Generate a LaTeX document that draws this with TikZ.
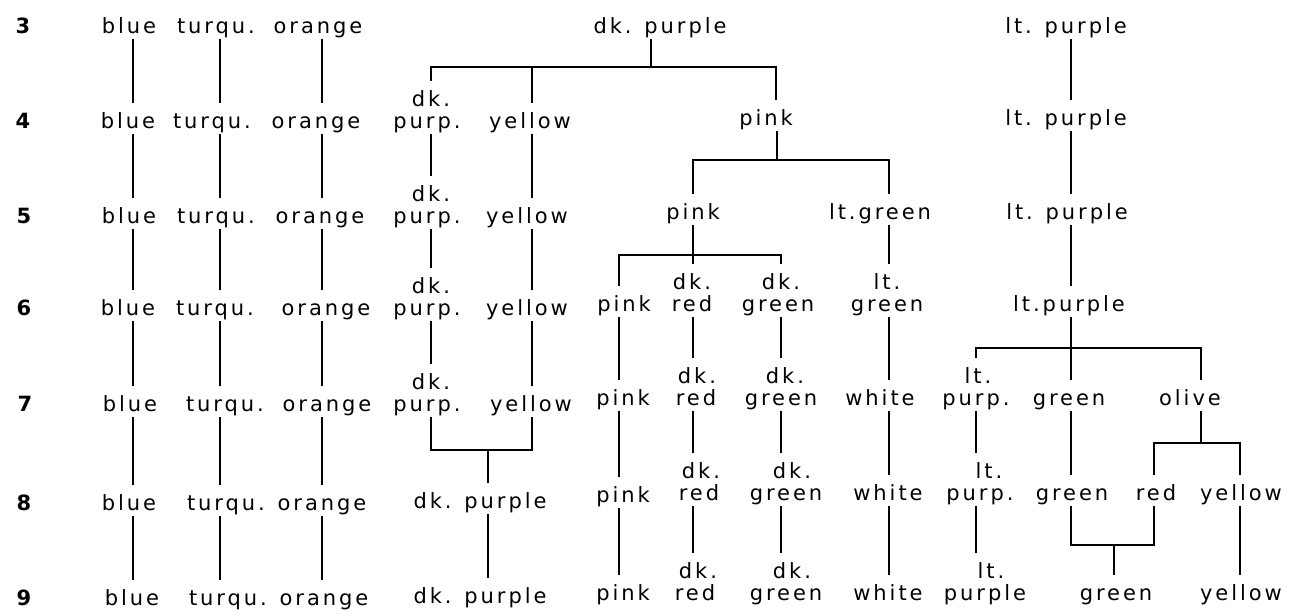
\documentclass[tikz,border=0pt]{standalone}
\usepackage{fontspec}
\setmainfont{DejaVu Sans}[LetterSpace=14]
\begin{document}
\begin{tikzpicture}[x=1pt,y=-1pt,
  lab/.style={font=\fontsize{21}{21}\selectfont, anchor=base, inner xsep=1pt, inner ysep=3pt, text height=17pt, text depth=3pt},
  rowlab/.style={lab, font=\fontsize{21}{21}\selectfont\bfseries},
  ln/.style={line width=1.1pt},
  con/.style={ln, shorten >=5pt},
  fork/.style={ln, shorten <=5pt, shorten >=5pt}]
\useasboundingbox (0,0) rectangle (1291,616);
% column line positions
\coordinate (cB) at (133,0);
\coordinate (cT) at (220,0);
\coordinate (cO) at (322,0);
\coordinate (cDP) at (431,0);
\coordinate (cY) at (532,0);
\coordinate (cMD) at (488,0);
\coordinate (cPK) at (619,0);
\coordinate (cDR) at (693,0);
\coordinate (cDG) at (781,0);
\coordinate (cLG) at (889,0);
\coordinate (cLP) at (976,0);
\coordinate (cG) at (1071,0);
\coordinate (cR) at (1154,0);
\coordinate (cOL) at (1201,0);
\coordinate (cYE) at (1240,0);
% row labels
\node[rowlab] (n3) at (23,33) {3};
\node[rowlab] (n4) at (23,128) {4};
\node[rowlab] (n5) at (24,223) {5};
\node[rowlab] (n6) at (24,315) {6};
\node[rowlab] (n7) at (25,411) {7};
\node[rowlab] (n8) at (24,510) {8};
\node[rowlab] (n9) at (24,605) {9};
% row 3
\node[lab] (b3) at (129,33) {blue};
\node[lab] (t3) at (216,33) {turqu.};
\node[lab] (o3) at (318,33) {orange};
\node[lab] (dp3) at (660,33) {dk. purple};
\node[lab] (lp3) at (1066,33) {lt. purple};
% row 4
\node[lab] (b4) at (128,128) {blue};
\node[lab] (t4) at (212,128) {turqu.};
\node[lab] (o4) at (316,128) {orange};
\node[lab] (dp4t) at (431,106) {dk.};
\node[lab] (dp4) at (427,128) {purp.};
\node[lab] (ye4) at (530,128) {yellow};
\node[lab] (pk4) at (766,125) {pink};
\node[lab] (lp4) at (1066,125) {lt. purple};
% row 5
\node[lab] (b5) at (129,223) {blue};
\node[lab] (t5) at (216,223) {turqu.};
\node[lab] (o5) at (320,223) {orange};
\node[lab] (dp5t) at (431,201) {dk.};
\node[lab] (dp5) at (427,223) {purp.};
\node[lab] (ye5) at (527,223) {yellow};
\node[lab] (pk5) at (693,219) {pink};
\node[lab] (lg5) at (880,219) {lt.green};
\node[lab] (lp5) at (1067,219) {lt. purple};
% row 6
\node[lab] (b6) at (128,315) {blue};
\node[lab] (t6) at (215,315) {turqu.};
\node[lab] (o6) at (326,315) {orange};
\node[lab] (dp6t) at (431,293) {dk.};
\node[lab] (dp6) at (427,315) {purp.};
\node[lab] (ye6) at (527,315) {yellow};
\node[lab] (pk6) at (624,311) {pink};
\node[lab] (dr6t) at (692,289) {dk.};
\node[lab] (dr6) at (692,311) {red};
\node[lab] (dg6t) at (781,289) {dk.};
\node[lab] (dg6) at (778,311) {green};
\node[lab] (lg6t) at (887,289) {lt.};
\node[lab] (lg6) at (887,311) {green};
\node[lab] (lp6) at (1069,311) {lt.purple};
% row 7
\node[lab] (b7) at (130,411) {blue};
\node[lab] (t7) at (225,411) {turqu.};
\node[lab] (o7) at (327,411) {orange};
\node[lab] (dp7t) at (431,389) {dk.};
\node[lab] (dp7) at (427,411) {purp.};
\node[lab] (ye7) at (531,411) {yellow};
\node[lab] (pk7) at (623,405) {pink};
\node[lab] (dr7t) at (697,383) {dk.};
\node[lab] (dr7) at (696,405) {red};
\node[lab] (dg7t) at (785,383) {dk.};
\node[lab] (dg7) at (781,405) {green};
\node[lab] (wh7) at (880,405) {white};
\node[lab] (lpu7t) at (978,383) {lt.};
\node[lab] (lpu7) at (976,405) {purp.};
\node[lab] (gr7) at (1069,405) {green};
\node[lab] (ol7) at (1190,405) {olive};
% row 8
\node[lab] (b8) at (129,510) {blue};
\node[lab] (t8) at (226,510) {turqu.};
\node[lab] (o8) at (322,510) {orange};
\node[lab] (dpl8) at (480,508) {dk. purple};
\node[lab] (pk8) at (623,502) {pink};
\node[lab] (dr8t) at (701,478) {dk.};
\node[lab] (dr8) at (699,500) {red};
\node[lab] (dg8t) at (792,478) {dk.};
\node[lab] (dg8) at (786,500) {green};
\node[lab] (wh8) at (888,500) {white};
\node[lab] (lpu8t) at (989,478) {lt.};
\node[lab] (lpu8) at (980,500) {purp.};
\node[lab] (gr8) at (1072,500) {green};
\node[lab] (re8) at (1156,500) {red};
\node[lab] (ye8) at (1241,500) {yellow};
% row 9
\node[lab] (b9) at (132,605) {blue};
\node[lab] (t9) at (228,605) {turqu.};
\node[lab] (o9) at (324,605) {orange};
\node[lab] (dpl9) at (480,603) {dk. purple};
\node[lab] (pk9) at (623,600) {pink};
\node[lab] (dr9t) at (698,578) {dk.};
\node[lab] (dr9) at (695,600) {red};
\node[lab] (dg9t) at (792,578) {dk.};
\node[lab] (dg9) at (786,600) {green};
\node[lab] (wh9) at (888,600) {white};
\node[lab] (lpu9t) at (991,578) {lt.};
\node[lab] (lpu9) at (985,600) {purple};
\node[lab] (gn9) at (1116,600) {green};
\node[lab] (ye9) at (1241,600) {yellow};
% straight chains
\foreach \a/\b in {b3/b4,b4/b5,b5/b6,b6/b7,b7/b8,b8/b9}
  \draw[con] (\a.south -| cB) -- (\b.north -| cB);
\foreach \a/\b in {t3/t4,t4/t5,t5/t6,t6/t7,t7/t8,t8/t9}
  \draw[con] (\a.south -| cT) -- (\b.north -| cT);
\foreach \a/\b in {o3/o4,o4/o5,o5/o6,o6/o7,o7/o8,o8/o9}
  \draw[con] (\a.south -| cO) -- (\b.north -| cO);
\foreach \a/\b in {dp4/dp5t,dp5/dp6t,dp6/dp7t}
  \draw[con] (\a.south -| cDP) -- (\b.north -| cDP);
\foreach \a/\b in {ye4/ye5,ye5/ye6,ye6/ye7}
  \draw[con] (\a.south -| cY) -- (\b.north -| cY);
\foreach \a/\b in {lp3/lp4,lp4/lp5,lp5/lp6}
  \draw[con] (\a.south -| cG) -- (\b.north -| cG);
\foreach \a/\b in {lg5/lg6t,lg6/wh7,wh7/wh8,wh8/wh9}
  \draw[con] (\a.south -| cLG) -- (\b.north -| cLG);
\foreach \a/\b in {pk6/pk7,pk7/pk8,pk8/pk9}
  \draw[con] (\a.south -| cPK) -- (\b.north -| cPK);
\foreach \a/\b in {dr6/dr7t,dr7/dr8t,dr8/dr9t}
  \draw[con] (\a.south -| cDR) -- (\b.north -| cDR);
\foreach \a/\b in {dg6/dg7t,dg7/dg8t,dg8/dg9t}
  \draw[con] (\a.south -| cDG) -- (\b.north -| cDG);
\foreach \a/\b in {lpu7/lpu8t,lpu8/lpu9t}
  \draw[con] (\a.south -| cLP) -- (\b.north -| cLP);
\draw[con] (gr7.south -| cG) -- (gr8.north -| cG);
\draw[con] (ye8.south -| cYE) -- (ye9.north -| cYE);
\draw[con] (dpl8.south -| cMD) -- (dpl9.north -| cMD);
% fork 1: dk. purple (3)
\coordinate (f1) at (651,67);
\draw[ln] (dp3.south -| f1) -- (f1);
\draw[fork] (dp4t.north -| cDP) |- (f1) -| (pk4.north -| 776,0);
\draw[con] (f1 -| cY) -- (ye4.north -| cY);
% fork 2: pink (4)
\coordinate (f2) at (777,160);
\draw[ln] (pk4.south -| f2) -- (f2);
\draw[fork] (pk5.north -| cDR) |- (f2) -| (lg5.north -| cLG);
% fork 3: pink (5)
\coordinate (f3) at (693,255);
\draw[ln] (pk5.south -| f3) -- (f3);
\draw[fork] (pk6.north -| cPK) |- (f3) -| (dg6t.north -| cDG);
\draw[con] (f3) -- (dr6t.north -| f3);
% fork 4: lt.purple (6)
\coordinate (f4) at (1071,348);
\draw[ln] (lp6.south -| f4) -- (f4);
\draw[fork] (lpu7t.north -| cLP) |- (f4) -| (ol7.north -| cOL);
\draw[con] (f4) -- (gr7.north -| f4);
% fork 5: olive (7)
\coordinate (f5) at (1201,443);
\draw[ln] (ol7.south -| f5) -- (f5);
\draw[fork] (re8.north -| cR) |- (f5) -| (ye8.north -| cYE);
% merge 1: dk. purp. + yellow (7) -> dk. purple (8)
\coordinate (f6) at (488,450);
\draw[ln] (dp7.south -| cDP) |- (f6) -| (ye7.south -| cY);
\draw[con] (f6) -- (dpl8.north -| f6);
% merge 2: green + red (8) -> green (9)
\coordinate (f7) at (1114,545);
\draw[ln] (gr8.south -| cG) |- (f7) -| (re8.south -| cR);
\draw[con] (f7) -- (gn9.north -| f7);
\end{tikzpicture}
\end{document}
